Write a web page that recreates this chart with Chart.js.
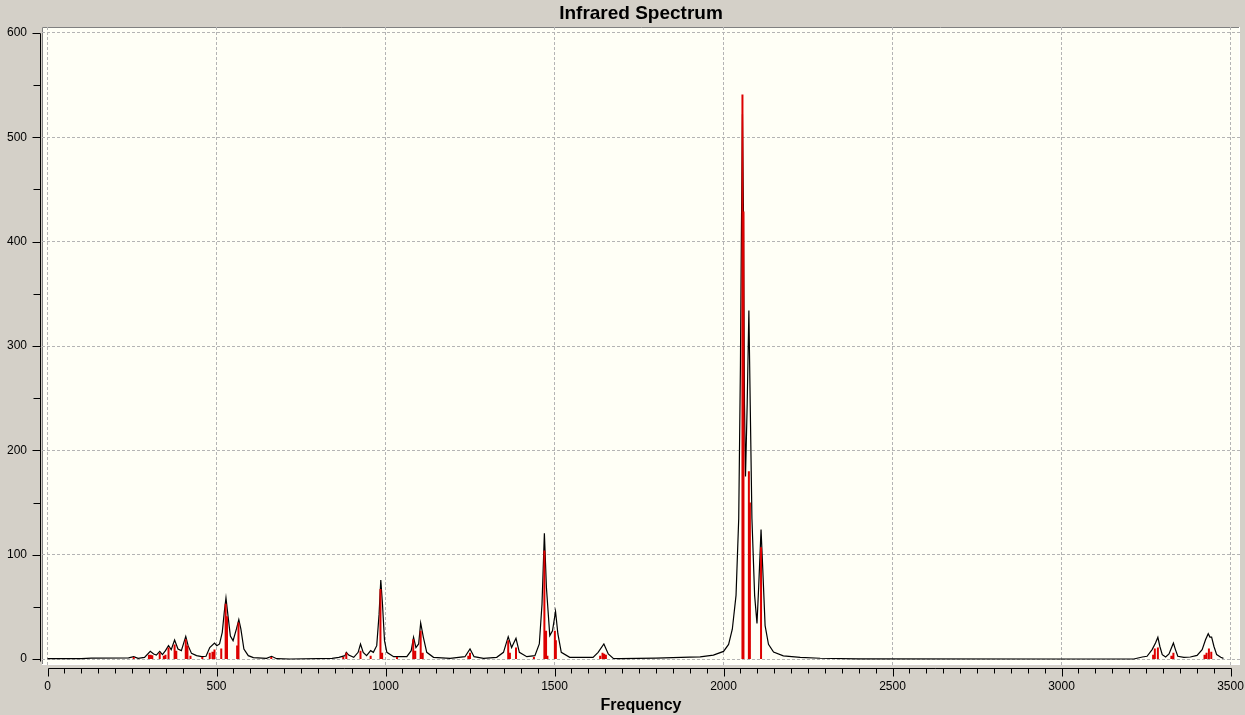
<!DOCTYPE html>
<html>
<head>
<meta charset="utf-8">
<title>Infrared Spectrum</title>
<script src="https://cdn.jsdelivr.net/npm/chart.js@4.4.1/dist/chart.umd.min.js"></script>
<style>
  body { margin: 0; background: #d4d0c8; }
  canvas { display: block; }
</style>
</head>
<body>
<canvas id="ir" width="1245" height="715"></canvas>
<script>
// stick spectrum (red lines): frequency, intensity
const stickFreq = [255, 300, 305, 310, 332, 344, 349, 358, 376, 381, 409, 414, 423, 458, 480, 488, 494, 514, 527, 531, 561, 565, 662,
  875, 884, 926, 956, 985, 990, 1034, 1082, 1088, 1104, 1110, 1245, 1250, 1363, 1368, 1386, 1439, 1470, 1475, 1479, 1501, 1504,
  1635, 1642, 1647, 1652, 2056, 2059, 2075, 2078, 2111, 3271, 3276, 3285, 3325, 3331, 3423, 3429, 3436, 3443];
const stickInt = [2, 4, 4, 3.5, 6, 3, 4, 11, 14, 8, 19, 13, 3, 2, 6, 7, 9, 10, 53, 41, 13, 35, 2,
  2, 6, 8, 3, 67, 6, 2, 19, 8, 27, 6, 3, 6, 18, 6, 11, 2, 104, 27, 3, 27, 18,
  3, 6, 5, 4, 541, 429, 180, 150, 107, 4, 10, 11, 3, 6, 4, 6, 10, 7];

// broadened spectrum (black curve)
const curveFreq = [0, 100, 130, 240, 255, 268, 287, 304, 314, 322, 332, 340, 349, 358, 366, 376, 386, 396, 409, 416, 426, 441, 456, 469,
  480, 494, 501, 509, 517, 523, 528, 534, 541, 549, 559, 566, 572, 581, 594, 609, 648, 663, 678, 717,
  842, 862, 880, 884, 891, 906, 919, 926, 934, 944, 956, 964, 974, 981, 986, 991, 997, 1004, 1024, 1063,
  1076, 1083, 1090, 1098, 1104, 1112, 1122, 1142, 1191, 1235, 1250, 1262, 1290, 1329, 1349, 1363, 1373, 1386, 1396,
  1418, 1442, 1455, 1463, 1470, 1476, 1486, 1494, 1503, 1510, 1520, 1545, 1614, 1629, 1646, 1659, 1674, 1693,
  1800, 1900, 1931, 1970, 2000, 2015, 2026, 2037, 2045, 2050, 2053, 2056, 2059, 2062, 2065, 2070, 2075, 2079, 2084,
  2092, 2099, 2104, 2111, 2116, 2123, 2133, 2148, 2177, 2227, 2286, 2400, 3000, 3214, 3239, 3253, 3268, 3278, 3285,
  3291, 3298, 3308, 3318, 3325, 3331, 3337, 3344, 3362, 3381, 3401, 3416, 3426, 3434, 3439, 3444, 3451, 3459, 3471, 3479];
const curveInt = [0.3, 0.3, 0.8, 1, 2.2, 0.6, 1.6, 7.3, 4.8, 3.8, 7.3, 4.2, 8, 12.8, 9, 18.2, 9.6, 8, 21.7, 12.8, 5.4, 3.2, 2.2, 2.6,
  11, 15.3, 12.8, 14.4, 25.6, 45, 58.5, 41.5, 22, 17.6, 28.8, 37.7, 28.8, 9.6, 3.2, 1.3, 0.6, 2.6, 0.3, 0,
  0.6, 1.6, 3.2, 6.4, 3.8, 1.6, 6.4, 14.4, 6.4, 3.2, 8, 6.4, 12.8, 43, 75.7, 52.7, 17.6, 6.4, 2.2, 2.2,
  8, 20.8, 11, 14.4, 34.5, 20.8, 6.4, 1.6, 0.6, 2.2, 9.6, 2.2, 0.6, 1.6, 6.4, 21.4, 11, 19.8, 6.4,
  2.2, 3.2, 14.4, 52.7, 120.5, 68.7, 22.4, 27, 45.7, 24, 6.4, 1.6, 1.6, 6.4, 14.4, 4.8, 0.6, 0.3,
  0.8, 1.8, 2, 3.7, 7.3, 14, 28.5, 61, 135, 281, 413, 522, 427, 244, 175, 244, 334, 244, 135,
  61, 34, 69, 124, 87, 32, 14, 6.6, 3, 1.5, 0.7, 0.2, 0, 0, 1.9, 2.6, 9, 15.3, 20.8,
  12, 4.2, 1.9, 4.8, 10.5, 15.3, 9, 2.6, 1.6, 1.9, 3.5, 9, 18.5, 24.3, 21, 21, 12, 4.2, 1.6, 0.6];

const xTicks = [0, 500, 1000, 1500, 2000, 2500, 3000, 3500];
const yTicks = [0, 100, 200, 300, 400, 500, 600];

const curveData = curveFreq.map((f, i) => ({ x: f, y: curveInt[i] }));
const stickData = [];
stickFreq.forEach((f, i) => {
  stickData.push({ x: f, y: 0 }, { x: f, y: stickInt[i] }, { x: f, y: null });
});

const frame = {
  id: 'frame',
  beforeDraw(chart) {
    const { ctx, chartArea: a } = chart;
    ctx.save();
    ctx.fillStyle = '#d4d0c8';
    ctx.fillRect(0, 0, chart.width, chart.height);
    ctx.fillStyle = '#fffff6';
    ctx.fillRect(a.left, a.top, a.right - a.left, a.bottom - a.top);
    ctx.strokeStyle = '#808080';
    ctx.lineWidth = 1;
    ctx.beginPath();
    ctx.moveTo(a.left + 0.5, a.bottom);
    ctx.lineTo(a.left + 0.5, a.top + 0.5);
    ctx.lineTo(a.right, a.top + 0.5);
    ctx.stroke();
    ctx.strokeStyle = '#ffffff';
    ctx.beginPath();
    ctx.moveTo(a.left, a.bottom - 0.5);
    ctx.lineTo(a.right - 0.5, a.bottom - 0.5);
    ctx.lineTo(a.right - 0.5, a.top);
    ctx.stroke();
    ctx.restore();
  },
  afterDraw(chart) {
    const { ctx, chartArea: a } = chart;
    const xs = chart.scales.x, ys = chart.scales.y;
    ctx.save();
    ctx.strokeStyle = '#000';
    ctx.lineWidth = 1;
    // left axis
    const ax = a.left - 1.5;
    ctx.beginPath();
    ctx.moveTo(ax, Math.round(ys.getPixelForValue(600)) + 0.5);
    ctx.lineTo(ax, Math.round(ys.getPixelForValue(0)) + 2.5);
    for (let v = 0; v <= 600; v += 50) {
      const py = Math.round(ys.getPixelForValue(v)) + 0.5;
      ctx.moveTo(ax, py);
      ctx.lineTo(ax - (v % 100 === 0 ? 8 : 7), py);
    }
    ctx.stroke();
    // bottom axis
    const ay = a.bottom + 3.5;
    ctx.beginPath();
    ctx.moveTo(Math.round(xs.getPixelForValue(0)) + 0.5, ay);
    ctx.lineTo(Math.round(xs.getPixelForValue(3500)) + 0.5, ay);
    for (let v = 0; v <= 3500; v += 50) {
      const px = Math.round(xs.getPixelForValue(v)) + 0.5;
      ctx.moveTo(px, ay);
      ctx.lineTo(px, ay + (v % 500 === 0 ? 8 : 5));
    }
    ctx.stroke();
    ctx.restore();
  }
};

new Chart(document.getElementById('ir'), {
  type: 'scatter',
  data: {
    datasets: [
      {
        label: 'sticks',
        data: stickData,
        showLine: true,
        spanGaps: false,
        borderColor: '#dd0000',
        borderWidth: 2,
        pointRadius: 0
      },
      {
        label: 'spectrum',
        data: curveData,
        showLine: true,
        borderColor: '#000000',
        borderWidth: 1.2,
        pointRadius: 0,
        tension: 0
      }
    ]
  },
  options: {
    responsive: false,
    animation: false,
    layout: { padding: { left: 0, right: 5, top: 0, bottom: 0 } },
    plugins: {
      legend: { display: false },
      tooltip: { enabled: false },
      title: {
        display: true,
        fullSize: false,
        text: 'Infrared Spectrum',
        color: '#000',
        font: { family: 'Liberation Sans, Arial, sans-serif', size: 19, weight: 'bold', lineHeight: 1.2 },
        padding: { top: 2, bottom: 2.2 }
      }
    },
    scales: {
      x: {
        type: 'linear',
        min: -16.3,
        max: 3528,
        afterBuildTicks: s => { s.ticks = xTicks.map(v => ({ value: v })); },
        afterFit: s => { s.height = 50; s.paddingLeft = 0; s.paddingRight = 0; },
        ticks: {
          color: '#000',
          padding: 14,
          maxRotation: 0,
          font: { family: 'Liberation Sans, Arial, sans-serif', size: 12 },
          callback: v => v
        },
        grid: { color: '#b4b4b4', lineWidth: 1, drawTicks: false },
        border: { display: false, dash: [3, 2] },
        title: {
          display: true,
          text: 'Frequency',
          color: '#000',
          font: { family: 'Liberation Sans, Arial, sans-serif', size: 16, weight: 'bold', lineHeight: 1.2 },
          padding: { top: 0, bottom: 0 }
        }
      },
      y: {
        type: 'linear',
        min: -5.75,
        max: 605.75,
        afterBuildTicks: s => { s.ticks = yTicks.map(v => ({ value: v })); },
        afterFit: s => { s.width = 42; s.paddingTop = 0; s.paddingBottom = 0; },
        ticks: {
          color: '#000',
          padding: 15,
          font: { family: 'Liberation Sans, Arial, sans-serif', size: 12 },
          callback: v => v
        },
        grid: { color: '#b4b4b4', lineWidth: 1, drawTicks: false },
        border: { display: false, dash: [3, 2] }
      }
    }
  },
  plugins: [frame]
});
</script>
</body>
</html>
